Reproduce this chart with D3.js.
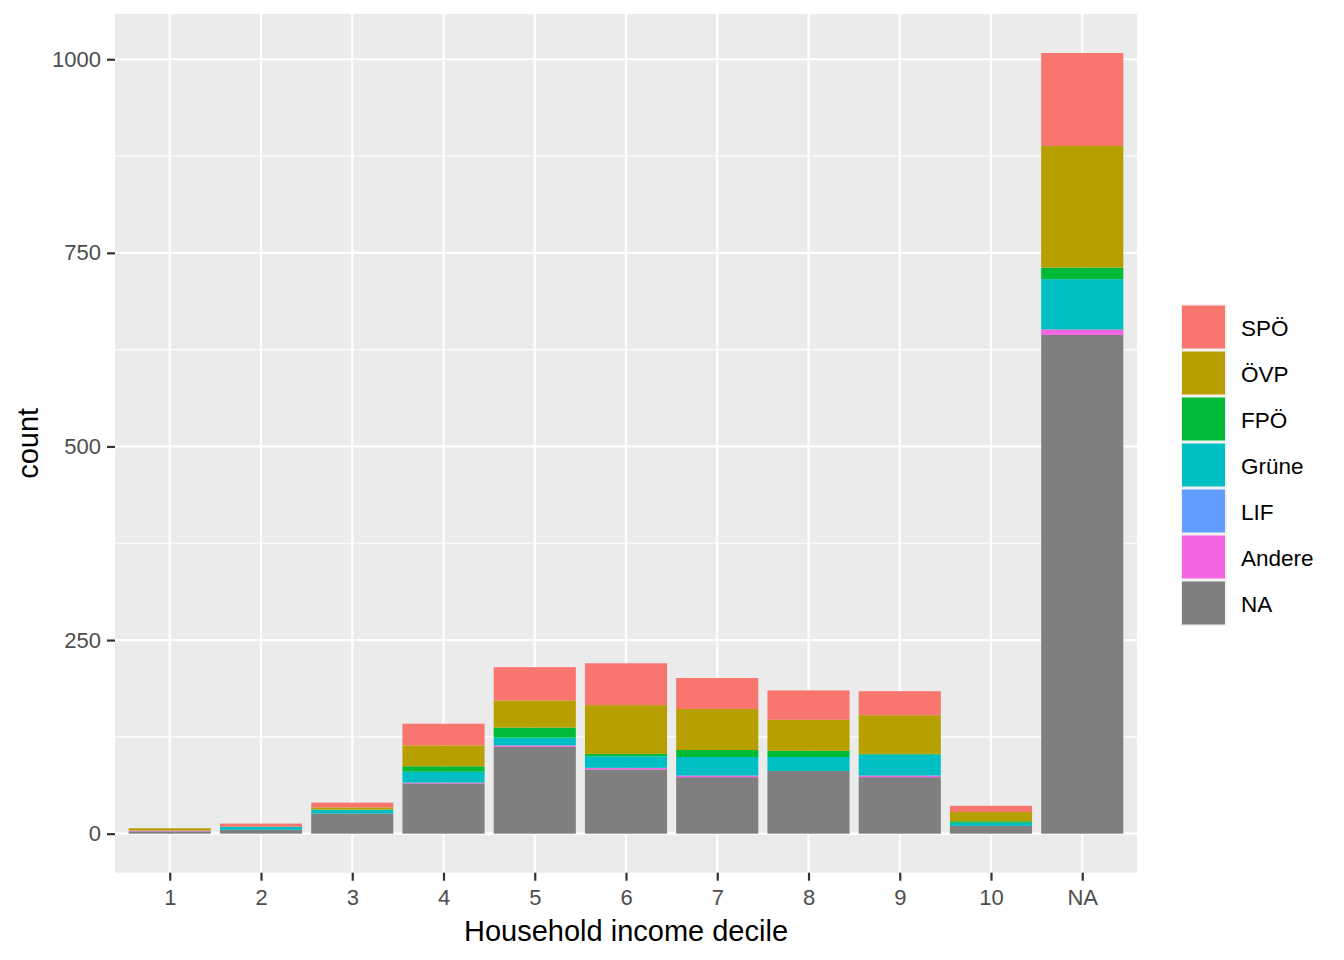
<!DOCTYPE html>
<html>
<head>
<meta charset="utf-8">
<script src="https://cdn.jsdelivr.net/npm/d3@7"></script>
<style>
body { margin: 0; background: #fff; }
text { font-family: "Liberation Sans", Arial, sans-serif; }
</style>
</head>
<body>
<div id="chart"></div>
<script>
var deciles = ["1", "2", "3", "4", "5", "6", "7", "8", "9", "10", "NA"]
var parties = ["SPÖ", "ÖVP", "FPÖ", "Grüne", "LIF", "Andere", "NA"]
var colors = ["#F8766D", "#B79F00", "#00BA38", "#00BFC4", "#619CFF", "#F564E3", "#7F7F7F"]

// counts per decile, one array per party
var spo    = [0, 4, 6, 28, 43, 54, 40, 38, 31, 8, 120]
var ovp    = [3, 0, 3, 27, 35, 63, 53, 40, 50, 12, 157]
var fpo    = [0, 0, 0, 7, 13, 3, 9, 8, 1, 2, 15]
var grune  = [0, 4, 5, 14, 10, 15, 24, 18, 27, 4, 65]
var lif    = [0, 0, 0, 0, 0, 0, 0, 0, 0, 0, 0]
var andere = [1, 0, 0, 1, 2, 2, 2, 0, 2, 0, 7]
var na     = [3, 5, 26, 65, 112, 83, 73, 81, 73, 10, 644]
var yTicks = [0, 250, 500, 750, 1000]

var series = [spo, ovp, fpo, grune, lif, andere, na]

var W = 1344, H = 960
var panel = { left: 115, top: 14, right: 1137, bottom: 872.7 }

var rows = deciles.map(function(d, i) {
    var r = { decile: d }
    parties.forEach(function(p, j) { r[p] = series[j][i] })
    return r
})

// stack with NA at the bottom, SPÖ on top
var stack = d3.stack().keys(parties.slice().reverse())
var layers = stack(rows)

var maxTotal = d3.max(layers[layers.length - 1], function(d) { return d[1] })
var yPad = maxTotal * 0.05

var x = d3.scalePoint()
    .domain(deciles)
    .range([panel.left, panel.right])
    .padding(0.6)
var barW = x.step() * 0.9

var y = d3.scaleLinear()
    .domain([-yPad, maxTotal + yPad])
    .range([panel.bottom, panel.top])

var color = d3.scaleOrdinal().domain(parties).range(colors)

var svg = d3.select("#chart").append("svg")
    .attr("width", W)
    .attr("height", H)

svg.append("rect")
    .attr("x", panel.left).attr("y", panel.top)
    .attr("width", panel.right - panel.left)
    .attr("height", panel.bottom - panel.top)
    .attr("fill", "#EBEBEB")

// minor gridlines
var minor = [125, 375, 625, 875]
svg.selectAll(".minor")
    .data(minor)
    .enter().append("line")
    .attr("x1", panel.left).attr("x2", panel.right)
    .attr("y1", function(d) { return y(d) })
    .attr("y2", function(d) { return y(d) })
    .attr("stroke", "#fff").attr("stroke-width", 1.1)

svg.selectAll(".majory")
    .data(yTicks)
    .enter().append("line")
    .attr("x1", panel.left).attr("x2", panel.right)
    .attr("y1", function(d) { return y(d) })
    .attr("y2", function(d) { return y(d) })
    .attr("stroke", "#fff").attr("stroke-width", 2.2)

svg.selectAll(".majorx")
    .data(deciles)
    .enter().append("line")
    .attr("y1", panel.top).attr("y2", panel.bottom)
    .attr("x1", function(d) { return x(d) })
    .attr("x2", function(d) { return x(d) })
    .attr("stroke", "#fff").attr("stroke-width", 2.2)

svg.append("g")
    .selectAll("g")
    .data(layers)
    .enter().append("g")
    .attr("fill", function(d) { return color(d.key) })
    .selectAll("rect")
    .data(function(d) { return d })
    .enter().append("rect")
    .attr("x", function(d) { return x(d.data.decile) - barW / 2 })
    .attr("width", barW)
    .attr("y", function(d) { return y(d[1]) })
    .attr("height", function(d) { return y(d[0]) - y(d[1]) })

// axes
var yAxis = svg.append("g")
    .attr("transform", "translate(" + panel.left + ",0)")
    .call(d3.axisLeft(y).tickValues(yTicks).tickFormat(d3.format("d")).tickSize(8).tickPadding(6))
yAxis.select(".domain").remove()
yAxis.selectAll("line").attr("stroke", "#333").attr("stroke-width", 2.2)
yAxis.selectAll("text").attr("fill", "#4D4D4D").style("font-size", "22px")

var xAxis = svg.append("g")
    .attr("transform", "translate(0," + panel.bottom + ")")
    .call(d3.axisBottom(x).tickSize(8).tickPadding(9))
xAxis.select(".domain").remove()
xAxis.selectAll("line").attr("stroke", "#333").attr("stroke-width", 2.2)
xAxis.selectAll("text").attr("fill", "#4D4D4D").style("font-size", "22px")

svg.append("text")
    .attr("x", (panel.left + panel.right) / 2)
    .attr("y", 941)
    .attr("text-anchor", "middle")
    .style("font-size", "29px")
    .text("Household income decile")

svg.append("text")
    .attr("transform", "translate(38," + ((panel.top + panel.bottom) / 2) + ") rotate(-90)")
    .attr("text-anchor", "middle")
    .style("font-size", "29px")
    .text("count")

// legend
var legend = svg.append("g").attr("transform", "translate(1181,304)")
var keys = legend.selectAll("g")
    .data(parties)
    .enter().append("g")
    .attr("transform", function(d, i) { return "translate(0," + (i * 46) + ")" })

keys.append("rect")
    .attr("width", 46).attr("height", 46)
    .attr("fill", "#F2F2F2")
keys.append("rect")
    .attr("x", 1).attr("y", 1.5)
    .attr("width", 43).attr("height", 43)
    .attr("fill", function(d) { return color(d) })
keys.append("text")
    .attr("x", 60).attr("y", 24)
    .attr("dy", "0.35em")
    .style("font-size", "22.5px")
    .text(function(d) { return d })
</script>
</body>
</html>
